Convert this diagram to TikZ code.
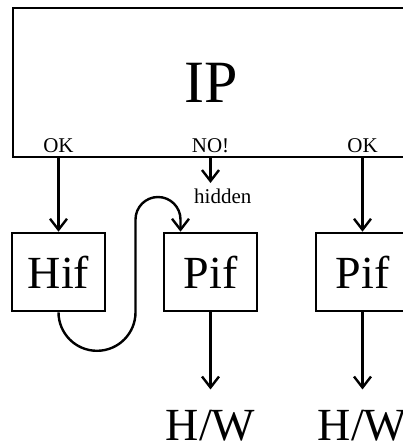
\documentclass[tikz,border=0pt]{standalone}
\usepackage{fontspec}
\setmainfont{Liberation Serif}
\usetikzlibrary{arrows.meta}

\tikzset{
  caja/.style={draw, line width=2.6pt, inner sep=0pt},
  etiq/.style={font=\fontsize{21}{21}\selectfont, inner sep=0pt},
  grande/.style={font=\fontsize{46}{46}\selectfont, inner sep=0pt},
  flecha/.style={line width=2.4pt, -{Straight Barb[length=11pt,width=17pt,line width=2.4pt]}},
  linea/.style={line width=2.4pt}
}

\begin{document}
\begin{tikzpicture}[x=1pt,y=-1pt]
  \path[use as bounding box, clip] (0,0) rectangle (403,441);

  % Caja superior
  \node[caja, minimum width=396pt, minimum height=149pt,
        font=\fontsize{60}{60}\selectfont] (ip) at (211,82.5) {IP};

  % Cajas de abajo
  \node[caja, grande, minimum width=93pt, minimum height=78pt] (hif)  at (58.5,272)  {Hif};
  \node[caja, grande, minimum width=93pt, minimum height=78pt] (pifa) at (210.5,272) {Pif};
  \node[caja, grande, minimum width=93pt, minimum height=78pt] (pifb) at (362.5,272) {Pif};

  % Salidas
  \node[etiq, anchor=base] (ok1) at (58.5,152)  {OK};
  \node[etiq, anchor=base] (no)  at (210.5,152) {NO!};
  \node[etiq, anchor=base] (ok2) at (362.5,152) {OK};

  \draw[flecha] (ip.south -| hif)  -- (hif.north);
  \draw[flecha] (ip.south -| pifb) -- (pifb.north);

  \coordinate (nofin) at (210.5,183);
  \draw[flecha] (ip.south -| no) -- (nofin);
  \node[etiq, anchor=base west] (hid) at (194,203) {hidden};

  % Camino de Hif a Pif
  \draw[flecha] (hif.south) arc[start angle=180, end angle=360, radius=38.5pt]
    -- (135.5,219.5) arc[start angle=180, end angle=0, radius=22.5pt]
    -- ([xshift=-30pt]pifa.north);

  % H/W
  \node[grande, anchor=base] (hwa) at (210.5,440) {H/W};
  \node[grande, anchor=base] (hwb) at (362.5,440) {H/W};

  \draw[flecha, shorten >=20pt] (pifa.south) -- (hwa.north);
  \draw[flecha, shorten >=20pt] (pifb.south) -- (hwb.north);
\end{tikzpicture}
\end{document}
